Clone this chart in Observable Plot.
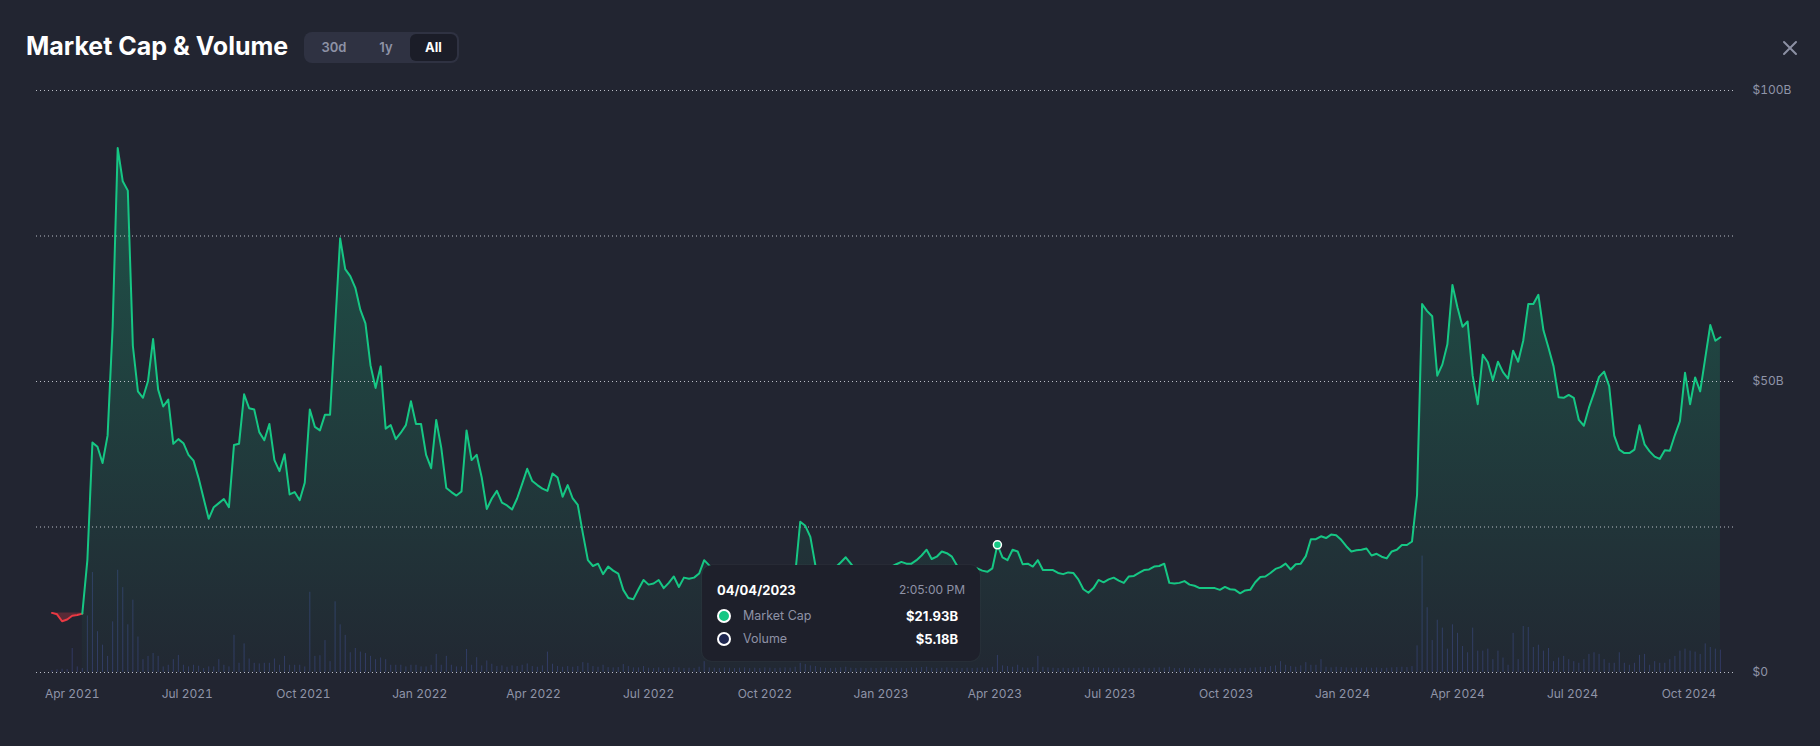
<!DOCTYPE html>
<html><head><meta charset="utf-8">
<script src="https://cdn.jsdelivr.net/npm/d3@7"></script>
<script src="https://cdn.jsdelivr.net/npm/@observablehq/plot@0.6"></script>
<style>
html,body{margin:0;padding:0;background:#222531;}
#wrap{position:relative;width:1820px;height:746px;overflow:hidden;font-family:Inter,"Noto Sans",sans-serif;background:#222531;}
#wrap svg.layer{position:absolute;left:0;top:0;}
#title{position:absolute;left:26px;top:34px;line-height:25px;font-size:25px;font-weight:700;color:#fff;letter-spacing:0;white-space:nowrap;}
#seg{position:absolute;left:304px;top:32px;width:155px;height:31px;background:#2f3242;border-radius:8px;}
#seg span{position:absolute;top:0;height:31px;line-height:31px;font-size:13px;font-weight:600;color:#8e92a6;text-align:center;}
#seg .active{top:2px;height:27px;line-height:27px;left:106px;width:47px;background:#1b1d28;border-radius:6px;color:#fff;font-weight:700;}
#close{position:absolute;left:1782px;top:40px;}
#tip{position:absolute;left:702px;top:565px;width:278px;height:96px;background:#1e202b;border-radius:10px;box-shadow:0 0 0 1px rgba(255,255,255,0.025);}
#tip div{position:absolute;white-space:nowrap;}
.tdate{left:15px;top:16px;font-size:13px;font-weight:700;color:#fff;line-height:18px;}
.ttime{right:15px;top:16px;font-size:12px;color:#8e92a6;line-height:18px;}
.tlab{left:41px;font-size:12.5px;color:#8e92a6;line-height:18px;}
.tval{right:22px;font-size:13px;font-weight:700;color:#fff;line-height:18px;}
.tdot{left:15px;width:10px;height:10px;border-radius:50%;border:2px solid #fff;}
</style></head><body><div id="wrap">
<div id="title">Market Cap &amp; Volume</div>
<div id="seg"><span style="left:12px;width:36px;">30d</span><span style="left:64px;width:36px;">1y</span><span class="active">All</span></div>
<svg id="close" width="16" height="16" viewBox="0 0 16 16"><path d="M2 2L14 14M14 2L2 14" stroke="#8c90a3" stroke-width="2" stroke-linecap="round"/></svg>
</div>
<script>
const startDate = Date.UTC(2021, 2, 16);
const stepDays = 4;
const mcapPart1 = [10.24,10.0,8.8,9.1,9.76,9.88,10.12,19.3,39.5,38.8,
36.0,40.7,59.4,90.1,84.4,82.8,56.1,48.3,47.2,50.1,
57.3,48.6,45.7,46.9,39.3,40.1,39.4,37.4,36.4,33.4,
29.9,26.4,28.4,29.1,29.8,28.4,39.1,39.3,47.8,45.4,
45.2,41.3,39.9,42.7,36.5,34.6,37.5,30.6,31.0,29.6,
32.6,45.2,42.2,41.6,44.3,44.3,59.4,74.6,69.3,68.1,
66.1,62.3,60.0,52.8,48.9,52.6,41.9,42.5,40.1,41.2,
42.5,46.6,42.7,42.7,37.4,35.1,43.4,38.6,31.7,31.0,
30.4,31.1,41.6];
const mcapPart2 = [36.5,37.4,33.5,28.1,29.9,31.2,29.2,28.7,28.0,29.9,
32.4,35.0,32.9,32.2,31.6,31.2,34.2,33.5,30.2,32.2,
29.9,28.8,23.9,19.3,18.3,18.7,16.9,18.2,17.5,17.0,
14.2,12.8,12.6,14.3,15.9,15.1,15.3,15.9,14.5,15.4,
16.5,14.7,16.3,16.1,16.3,17.0,19.3,18.4,17.5,16.8,
17.2,16.0,15.5,16.2,15.8,15.0,14.6,15.2,14.8,15.6,
16.0,15.4,15.9,16.3,16.8,25.9,25.2,23.3,18.4,16.5,
16.9,17.4,18.1,18.9,19.8,18.7,17.6,17.0,16.8,17.2,
17.9,18.3,18.0];
const mcapPart3 = [18.2,18.6,19.0,18.7,18.7,19.3,20.1,21.1,19.5,19.9,
20.8,20.5,19.9,18.4,17.5,17.3,17.2,17.9,17.5,17.3,
17.9,21.93,19.8,19.3,21.1,20.8,18.6,18.7,18.2,19.3,
17.6,17.6,17.6,17.1,16.9,17.2,17.1,16.0,14.3,13.7,
14.5,15.9,15.5,16.0,16.3,15.8,15.4,16.5,16.6,17.1,
17.6,17.7,18.2,18.3,18.7,15.4,15.3,15.4,15.7,15.1,
14.9,14.5,14.5,14.5,14.5,14.2,14.7,14.3,14.2,13.6,
14.1,14.2,15.5,16.4,16.5,17.1,17.8,18.1,18.7,17.7,
18.6,18.7,20.0];
const mcapPart4 = [22.9,22.9,23.4,23.1,23.7,23.6,22.8,21.7,20.8,21.0,
21.1,21.3,20.1,20.4,19.9,19.6,20.8,21.1,21.9,21.9,
22.5,30.5,63.3,62.1,61.2,51.0,52.9,56.4,66.6,62.7,
59.4,60.3,51.0,46.1,54.6,53.3,50.2,53.4,51.6,50.5,
55.3,53.4,57.0,63.3,63.3,64.9,58.8,55.8,52.6,47.3,
47.2,47.7,47.2,43.4,42.4,45.5,48.0,50.8,51.7,49.2,
40.7,38.3,37.7,37.7,38.3,42.5,39.2,38.0,37.1,36.7,
38.2,38.1,40.8,43.2,51.5,46.1,50.7,48.3,54.0,59.7,
57.0,57.6];
const volPart1 = [0.6,0.8,1.0,0.9,7.3,1.7,1.2,17.2,30.4,12.4,
8.3,4.9,15.4,31.1,25.8,14.5,22.0,10.8,3.9,4.9,
5.8,4.9,1.7,2.2,3.9,5.2,2.2,1.7,2.2,1.9,
1.2,1.7,1.7,3.9,2.2,1.7,11.3,2.8,8.7,4.1,
2.8,2.6,2.8,2.8,4.1,2.2,4.9,2.2,2.2,2.2,
1.7,24.4,4.9,5.1,9.7,3.3,21.5,14.5,11.3,6.0,
7.3,6.2,5.8,4.9,3.9,4.4,3.9,2.2,2.2,2.2,
1.7,2.2,2.2,1.7,1.7,2.2,5.5,2.2,4.9,2.2,
1.7,1.7,7.0];
const volPart2 = [2.2,4.5,2.0,3.5,2.5,1.8,2.0,1.6,2.0,1.8,
2.2,2.6,1.8,1.6,2.0,6.2,2.5,1.8,1.6,1.8,
1.6,1.8,3.0,2.8,1.8,1.6,2.2,1.5,1.4,1.5,
2.4,1.8,1.4,1.4,1.8,1.3,1.2,1.4,1.2,1.3,
1.5,1.4,1.2,1.3,1.2,1.6,3.3,1.4,1.3,1.2,
1.4,1.3,1.2,1.3,1.4,1.2,1.3,1.2,1.4,1.3,
1.2,1.3,1.4,1.3,1.6,2.8,2.4,2.0,1.8,1.4,
1.3,1.2,1.3,1.4,1.6,1.3,1.2,1.3,1.2,1.3,
1.2,1.3,1.4];
const volPart3 = [1.3,1.2,1.3,1.2,1.4,1.3,1.5,1.6,1.3,1.2,
1.3,1.4,1.3,1.2,1.2,1.3,1.2,1.3,1.4,1.3,
1.6,5.18,2.0,1.8,1.6,2.2,1.4,1.3,1.5,4.9,
1.6,1.4,1.3,1.2,1.3,1.2,1.3,1.4,1.6,1.5,
1.3,1.4,1.2,1.3,1.2,1.3,1.2,1.3,1.2,1.2,
1.3,1.2,1.3,1.4,1.3,1.6,1.2,1.2,1.3,1.2,
1.2,1.1,1.2,1.1,1.2,1.1,1.2,1.2,1.1,1.2,
1.2,1.3,1.4,1.6,1.5,1.8,2.0,3.3,2.2,1.8,
1.6,2.0,3.0];
const volPart4 = [2.2,2.2,3.9,1.6,1.4,1.6,1.5,1.4,1.3,1.4,
1.3,1.4,1.3,1.4,1.2,1.3,1.4,1.5,1.6,1.5,
1.8,8.1,35.4,19.7,9.7,15.9,13.5,7.1,14.5,11.9,
7.9,6.0,13.5,6.5,6.5,7.1,3.9,6.5,4.4,2.2,
11.9,3.9,14.0,13.7,7.6,8.3,6.5,7.3,3.3,4.4,
4.9,3.9,3.3,2.8,3.9,5.5,6.0,5.5,3.9,2.8,
2.8,6.0,2.8,2.2,2.8,5.2,5.5,2.2,3.3,2.8,
2.8,3.9,4.9,6.5,7.1,6.5,6.2,5.5,8.7,7.6,
7.1,6.8];
const yTicks = [0, 50, 100];
const yTickLabels = ["$0", "$50B", "$100B"];
const gridTicks = [0, 25, 50, 75, 100];
const tooltipDate = "04/04/2023";
const tooltipTime = "2:05:00 PM";
const hoverIndex = 187;

const mcap = [...mcapPart1, ...mcapPart2, ...mcapPart3, ...mcapPart4];
const vol = [...volPart1, ...volPart2, ...volPart3, ...volPart4];
const data = mcap.map((v, i) => ({date: new Date(startDate + i * stepDays * 864e5), mcap: v, vol: vol[i]}));
const base = data[0].mcap;
const redEnd = 6;
const redPart = data.slice(0, redEnd + 1);
const greenPart = data.slice(redEnd);

const W = 1820, H = 746;
const dims = {width: W, height: H, marginTop: 90, marginBottom: 74, marginLeft: 36, marginRight: 87};
const xDomain = [new Date(Date.UTC(2021, 2, 3, 18, 7)), new Date(Date.UTC(2024, 10, 5, 8, 45))];
const xTicks = d3.utcMonth.every(3).range(new Date(Date.UTC(2021, 3, 1)), new Date(Date.UTC(2024, 9, 2)));
const fmtMonth = d3.utcFormat("%b %Y");

const volPlot = Plot.plot({
  ...dims,
  style: {background: "transparent"},
  x: {type: "utc", domain: xDomain, axis: null},
  y: {domain: [0, 177], axis: null},
  marks: [
    Plot.ruleX(data, {x: "date", y1: 0, y2: "vol", stroke: "#323963", strokeWidth: 1})
  ]
});

const gradMark = (index, scales, values, d) => {
  const defs = document.createElementNS("http://www.w3.org/2000/svg", "defs");
  defs.innerHTML = `<linearGradient id="mcapGrad" gradientUnits="userSpaceOnUse" x1="0" y1="${d.marginTop}" x2="0" y2="${d.height - d.marginBottom}"><stop offset="0" stop-color="#16c784" stop-opacity="0.32"/><stop offset="1" stop-color="#16c784" stop-opacity="0.02"/></linearGradient>`;
  return defs;
};

const mainPlot = Plot.plot({
  ...dims,
  style: {background: "transparent", color: "#8f94a8", fontFamily: "Inter, 'Noto Sans', sans-serif", fontSize: "12px"},
  x: {type: "utc", domain: xDomain, label: null},
  y: {domain: [0, 100], label: null},
  marks: [
    gradMark,
    Plot.areaY(greenPart, {x: "date", y: "mcap", fill: "url(#mcapGrad)"}),
    Plot.areaY(redPart, {x: "date", y1: base, y2: "mcap", fill: "#ea3943", fillOpacity: 0.28}),
    Plot.gridY(gridTicks, {stroke: "#d5d8e0", strokeOpacity: 0.85, strokeDasharray: "1,3"}),
    Plot.lineY(redPart, {x: "date", y: "mcap", stroke: "#ea3943", strokeWidth: 2}),
    Plot.lineY(greenPart, {x: "date", y: "mcap", stroke: "#16c784", strokeWidth: 2}),
    Plot.dot([data[hoverIndex]], {x: "date", y: "mcap", r: 4, fill: "#16c784", stroke: "#fff", strokeWidth: 1.5}),
    Plot.axisY(yTicks, {anchor: "right", label: null, tickSize: 0, tickPadding: 19, tickFormat: d => yTickLabels[yTicks.indexOf(d)], fill: "#8f94a8", fontSize: 12}),
    Plot.axisX(xTicks, {label: null, tickSize: 0, tickPadding: 17, tickFormat: fmtMonth, fill: "#8f94a8", fontSize: 12})
  ]
});

const wrap = document.getElementById("wrap");
volPlot.classList.add("layer");
mainPlot.classList.add("layer");
wrap.appendChild(volPlot);
wrap.appendChild(mainPlot);

const h = data[hoverIndex];
const tip = document.createElement("div");
tip.id = "tip";
tip.innerHTML = `<div class="tdate">${tooltipDate}</div><div class="ttime">${tooltipTime}</div>
<div class="tdot" style="top:44px;background:#16c784"></div><div class="tlab" style="top:42px">Market Cap</div><div class="tval" style="top:42px">$${h.mcap.toFixed(2)}B</div>
<div class="tdot" style="top:67px;background:#1f2750"></div><div class="tlab" style="top:65px">Volume</div><div class="tval" style="top:65px">$${h.vol.toFixed(2)}B</div>`;
wrap.appendChild(tip);
["title","seg","close"].forEach(id => wrap.appendChild(document.getElementById(id)));
</script></body></html>
